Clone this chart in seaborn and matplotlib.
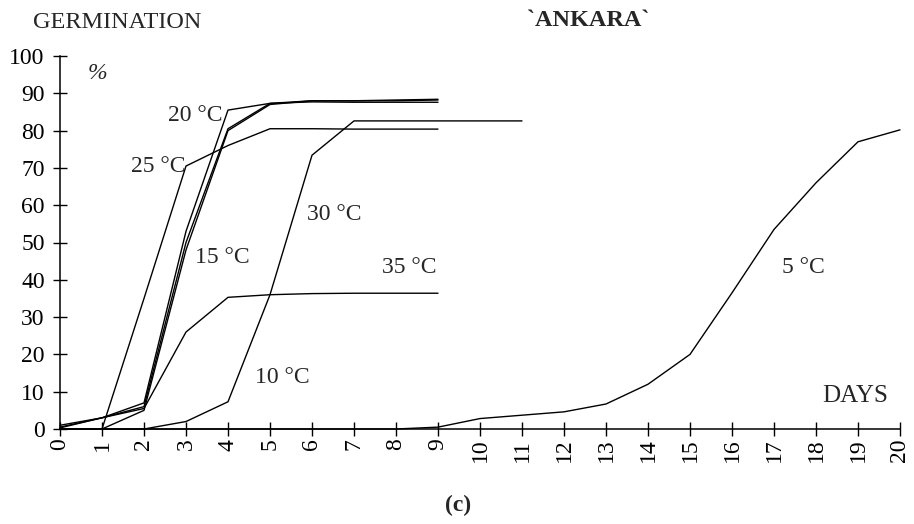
import pandas as pd
import seaborn as sns
import matplotlib.pyplot as plt

# germination (%) per day, cv. Ankara
days_9 = list(range(0, 10))
days_11 = list(range(0, 12))
days_20 = list(range(0, 21))

t20 = [1, 3, 7, 53, 85.5, 87.3, 88, 88, 88.2, 88.4]
t15 = [0.5, 3, 6, 50, 80.5, 87.3, 87.7, 87.6, 87.6, 87.6]
t30 = [0, 0, 5, 48, 80, 87, 88, 88, 88, 88.2]
t25 = [0, 0, 35, 70.5, 76, 80.5, 80.5, 80.4, 80.4, 80.4]
t35 = [0.3, 3, 5.5, 26, 35.3, 36, 36.3, 36.4, 36.4, 36.4]
t10 = [0, 0, 0, 2, 7.3, 36, 73.4, 82.6, 82.6, 82.6, 82.6, 82.6]
t5 = [0, 0, 0, 0, 0, 0, 0, 0, 0, 0.5, 2.8, 3.7, 4.6, 6.7, 12, 20, 36.5, 53.5, 66, 77, 80.2]

curve_labels = ['20 °C', '25 °C', '15 °C', '30 °C', '35 °C', '10 °C', '5 °C']
label_x = [3.88, 2.99, 3.22, 5.87, 7.67, 4.64, 17.2]
label_y = [84, 70.5, 46, 57.5, 43.2, 13.7, 43.2]
label_ha = ['right', 'right', 'left', 'left', 'left', 'left', 'left']

frames = []
for name, d, v in [('20', days_9, t20), ('15', days_9, t15), ('30', days_9, t30),
                   ('25', days_9, t25), ('35', days_9, t35), ('10', days_11, t10),
                   ('5', days_20, t5)]:
    frames.append(pd.DataFrame({'day': d, 'germ': v, 'temp': name}))
df = pd.concat(frames, ignore_index=True)

sns.set_style('ticks')
plt.rcParams['font.family'] = ['Liberation Serif', 'DejaVu Serif']

fig = plt.figure(figsize=(9.14, 5.24), dpi=100)
ax = fig.add_axes([60 / 914, 1 - 429 / 524, 840 / 914, 373 / 524])

temps = df['temp'].unique()
sns.lineplot(data=df, x='day', y='germ', hue='temp', units='temp', estimator=None,
             palette={t: 'black' for t in temps}, linewidth=1.0, legend=False,
             ax=ax, clip_on=False)

ax.set_xlim(0, 20)
ax.set_ylim(0, 100)
ax.set_xticks(range(0, 21))
ax.set_yticks(range(0, 101, 10))
ax.set_xlabel('')
ax.set_ylabel('')
for s in ['top', 'right']:
    ax.spines[s].set_visible(False)
for s in ['left', 'bottom']:
    ax.spines[s].set_linewidth(1.1)
    ax.spines[s].set_color('black')
ax.tick_params(axis='both', direction='inout', length=10, width=1.0, colors='black',
               labelsize=17)
ax.tick_params(axis='x', labelrotation=90, pad=2)
ax.tick_params(axis='y', pad=6)

for txt, x, y, ha in zip(curve_labels, label_x, label_y, label_ha):
    ax.text(x, y, txt, ha=ha, va='center', fontsize=17)

ax.text(0.67, 95.4, '%', ha='left', va='center', fontsize=17, style='italic')
ax.text(18.14, 8.8, 'DAYS', ha='left', va='center', fontsize=18)

fig.text(33 / 914, 1 - 22 / 524, 'GERMINATION', ha='left', va='center', fontsize=17.5)
fig.text(588 / 914, 1 - 20 / 524, '`ANKARA`', ha='center', va='center', fontsize=17.5,
         fontweight='bold')
fig.text(458 / 914, 1 - 505 / 524, '(c)', ha='center', va='center', fontsize=17,
         fontweight='bold')

plt.savefig('out.png', dpi=100)
